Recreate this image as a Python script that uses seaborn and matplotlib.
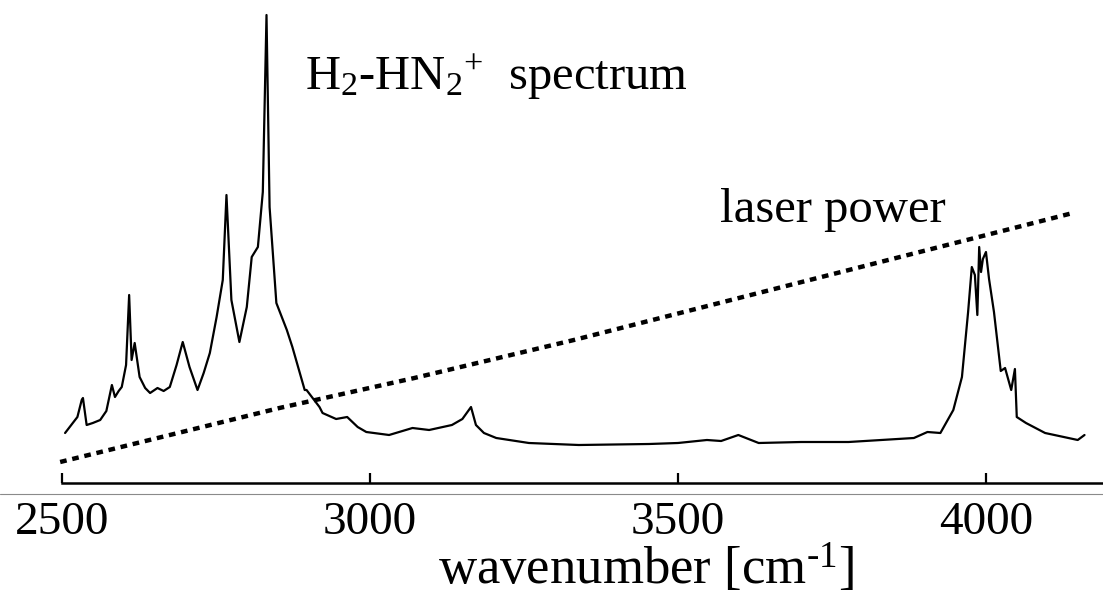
import numpy as np
import pandas as pd
import matplotlib
matplotlib.use("Agg")
import matplotlib.pyplot as plt
import seaborn as sns
from matplotlib.lines import Line2D

# spectrum (wavenumber, arbitrary intensity)
wavenumber = [2505, 2515, 2525, 2532, 2534, 2540, 2550, 2562, 2572, 2581, 2586, 2592, 2597,
              2604, 2609, 2613, 2618, 2626, 2635, 2643, 2655, 2665, 2675, 2686, 2696, 2707,
              2720, 2730, 2740, 2751, 2761, 2767, 2775, 2788, 2800,
              2808, 2818, 2826, 2832, 2837, 2848, 2865, 2874, 2894, 2897, 2918, 2923,
              2945, 2963, 2980, 2994, 3031, 3069, 3096, 3133, 3150, 3164, 3172, 3185, 3205,
              3258, 3339, 3453, 3500,
              3547, 3570, 3598, 3631, 3700, 3777, 3883, 3905, 3926, 3947, 3961, 3971, 3977, 3982,
              3986, 3989, 3992, 3995, 4000, 4005, 4013, 4024, 4031, 4041, 4047, 4050,
              4065, 4096, 4149, 4160]
intensity = [50, 58, 66, 83, 85, 58, 60, 63, 72, 98, 86, 92, 96,
             118, 188, 123, 140, 106, 95, 90, 95, 92, 96, 118, 141, 116,
             93, 110, 130, 166, 203, 288, 183, 141, 176,
             226, 236, 291, 468, 276, 180, 153, 136, 93, 93, 76, 70,
             64, 66, 56, 51, 48, 55, 53, 58, 64, 76, 58, 50, 45,
             40, 38, 39, 40,
             43, 42, 48, 40, 41, 41, 45, 51, 50, 73, 106, 171, 216, 208,
             168, 236, 211, 224, 231, 204, 171, 112, 115, 93, 114, 66,
             60, 50, 43, 48]

# laser power curve
laser_wn = [2497, 2853, 3072, 3331, 4141]
laser_pw = [21, 75, 105, 143, 270]

ticks = [2500, 3000, 3500, 4000]
tick_labels = ["2500", "3000", "3500", "4000"]

sns.set_style("white")
plt.rcParams["font.family"] = ["Liberation Serif", "DejaVu Serif"]
plt.rcParams["mathtext.fontset"] = "custom"
plt.rcParams["mathtext.rm"] = "Liberation Serif"
plt.rcParams["mathtext.it"] = "Liberation Serif:italic"
plt.rcParams["text.color"] = "black"
plt.rcParams["xtick.color"] = "black"
plt.rcParams["axes.labelcolor"] = "black"

fig = plt.figure(figsize=(11.03, 5.92), dpi=100)
ax = fig.add_axes([62 / 1103, (592 - 483) / 592, 1 - 62 / 1103, 483 / 592])

spec = pd.DataFrame({"wn": wavenumber, "I": intensity})
laser = pd.DataFrame({"wn": laser_wn, "P": laser_pw})

sns.lineplot(data=spec, x="wn", y="I", ax=ax, color="black", lw=1.6, sort=False)
sns.lineplot(data=laser, x="wn", y="P", ax=ax, color="black", lw=3.2)
line = ax.lines[-1]
line.set_dashes([1.5, 1.3])
line.set_dash_capstyle("butt")
line.set_clip_on(False)

ax.set_xlim(2500, 4190)
ax.set_ylim(0, 483)

for s in ["top", "right", "left"]:
    ax.spines[s].set_visible(False)
ax.spines["bottom"].set_linewidth(1.8)
ax.spines["bottom"].set_color("black")
ax.set_yticks([])
ax.set_xticks(ticks)
ax.set_xticklabels(tick_labels)
ax.tick_params(axis="x", bottom=True, direction="in", length=7, width=1.6, pad=13,
               labelsize=34, colors="black")
ax.set_xlabel(r"wavenumber [cm$^{\text{-}1}$]", fontsize=38, color="black")
ax.xaxis.set_label_coords(0.561, -0.122)
ax.set_ylabel("")

ax.text(2894, 393, r"H$_2$-HN$_2$$^{+}$  spectrum", fontsize=35, ha="left", va="baseline",
        color="black")
ax.text(3569, 261, "laser power", fontsize=35, ha="left", va="baseline", color="black")

fig.add_artist(Line2D([0, 1], [1 - 494 / 592, 1 - 494 / 592], transform=fig.transFigure,
                      color="#8a8a8a", lw=0.8))

fig.savefig("out.png", dpi=100)
